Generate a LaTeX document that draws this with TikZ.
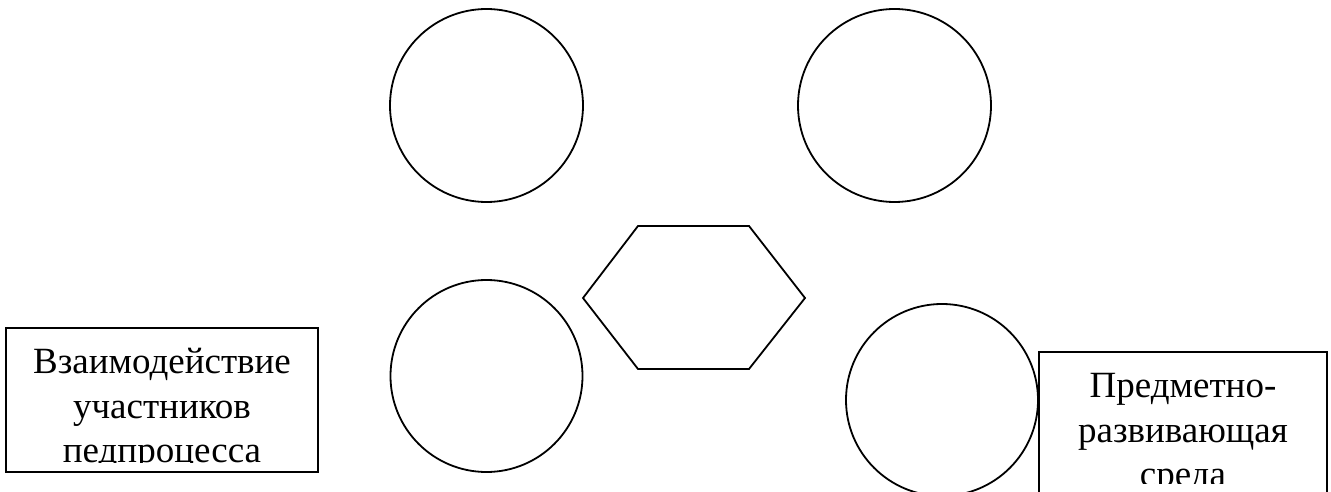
\documentclass[tikz,border=0pt]{standalone}
\usepackage{fontspec}
\setmainfont{Liberation Serif}
\begin{document}
\begin{tikzpicture}[x=1pt,y=-1pt,
  ring/.style={circle,draw,line width=1.8pt,inner sep=0pt,minimum size=#1},
  tbox/.style={draw,line width=1.6pt,inner sep=0pt},
  txt/.style={anchor=base,inner sep=0pt,font=\fontsize{37}{44}\selectfont}]
\useasboundingbox (0,0) rectangle (1331,492);
% circles
\node[ring=193pt] (c1) at (486.5,105.5) {};
\node[ring=193pt] (c2) at (894.5,105.5) {};
\node[ring=192pt] (c3) at (486.5,376) {};
\node[ring=192pt] (c4) at (942,400) {};
% hexagon
\draw[line width=1.8pt,line join=miter] (583,298) -- (638,226) -- (749,226) -- (805,298) -- (749,369) -- (638,369) -- cycle;
% left box
\draw[line width=1.6pt] (6,328) rectangle (318,472);
\begin{scope}
\clip (6,328) rectangle (318,462);
\node[txt] (l1) at (162,373) {Взаимодействие};
\node[txt] (l2) at (162,418) {участников};
\node[txt] (l3) at (162,462) {педпроцесса};
\end{scope}
% right box
\draw[line width=1.6pt] (1039,500) -- (1039,352) -- (1327,352) -- (1327,500);
\begin{scope}
\clip (1039,352) rectangle (1327,483);
\node[txt] (r1) at (1183,397) {Предметно-};
\node[txt] (r2) at (1183,442) {развивающая};
\node[txt] (r3) at (1183,486) {среда};
\end{scope}
\end{tikzpicture}
\end{document}
